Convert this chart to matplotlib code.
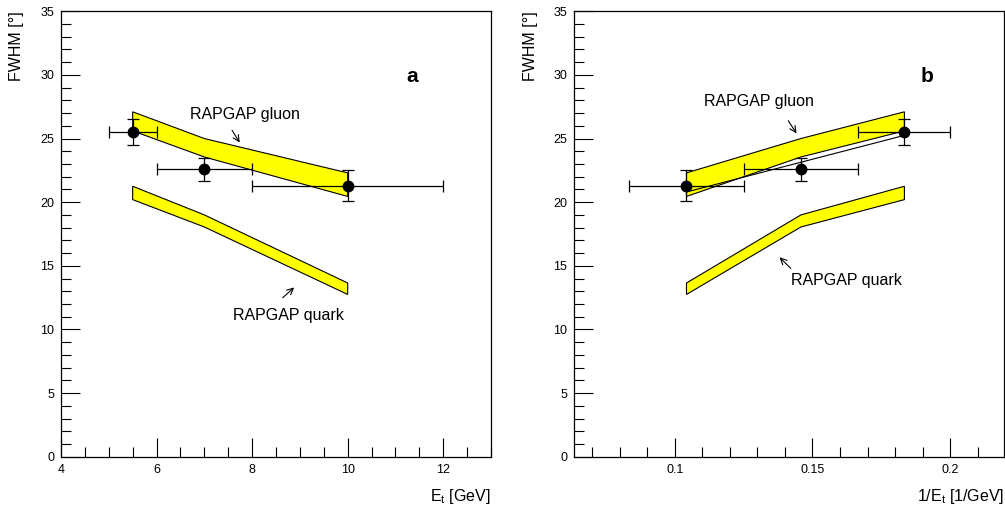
import numpy as np
import matplotlib
matplotlib.use('Agg')
import matplotlib.pyplot as plt
from matplotlib.ticker import MultipleLocator

plt.rcParams['font.family'] = ['Liberation Sans', 'DejaVu Sans']
plt.rcParams['mathtext.fontset'] = 'custom'
plt.rcParams['mathtext.rm'] = 'Liberation Sans'
plt.rcParams['mathtext.it'] = 'Liberation Sans'

# measured points (same three Et bins in both panels)
et_mean = [5.5, 7.0, 10.0]
et_lo = [5.0, 6.0, 8.0]
et_hi = [6.0, 8.0, 12.0]
inv_mean = [0.1834, 0.1458, 0.1042]
inv_lo = [0.1667, 0.125, 0.0833]
inv_hi = [0.2, 0.1667, 0.125]
fwhm = [25.5, 22.6, 21.3]
fwhm_err = [1.0, 0.9, 1.2]

# RAPGAP bands (upper / lower edges at the three bin centres)
gluon_hi = [27.1, 25.0, 22.3]
gluon_lo = [25.6, 23.55, 20.45]
quark_hi = [21.25, 19.0, 13.65]
quark_lo = [20.2, 18.05, 12.75]
# extra straight edge of the gluon band seen in panel b (ends only)
gluon_edge_b = [25.25, 20.8]

yellow = '#ffff00'
arrow = dict(arrowstyle='->,head_length=0.45,head_width=0.22', lw=0.8,
             color='black', shrinkA=0, shrinkB=0)


def band(ax, x, hi, lo):
    xs = list(x) + list(x)[::-1]
    ys = list(hi) + list(lo)[::-1]
    ax.fill(xs, ys, facecolor=yellow, edgecolor='black', lw=0.8, zorder=2)


def points(ax, x, lo, hi):
    x = np.array(x)
    xerr = [x - np.array(lo), np.array(hi) - x]
    ax.errorbar(x, fwhm, xerr=xerr, yerr=fwhm_err, fmt='o', color='black',
                ms=7.5, elinewidth=0.9, capsize=4.5, capthick=0.9, zorder=4)


def style(ax, ylab_x):
    ax.set_ylim(0, 35)
    ax.yaxis.set_major_locator(MultipleLocator(5))
    ax.yaxis.set_minor_locator(MultipleLocator(1))
    ax.tick_params(which='both', direction='in', top=False, right=False,
                   labelsize=9, width=0.8, pad=5)
    ax.tick_params(which='major', length=14)
    ax.tick_params(which='minor', length=7)
    for s in ax.spines.values():
        s.set_linewidth(0.9)
    ax.set_ylabel(u'FWHM [°]', fontsize=11.5, loc='top')
    ax.yaxis.set_label_coords(ylab_x, 1.0)


fig = plt.figure(figsize=(10.05, 5.12), dpi=100)
ax1 = fig.add_axes([0.0607, 0.108, 0.4279, 0.870])
ax2 = fig.add_axes([0.5711, 0.108, 0.4279, 0.870])

# panel a
band(ax1, et_mean, gluon_hi, gluon_lo)
band(ax1, et_mean, quark_hi, quark_lo)
points(ax1, et_mean, et_lo, et_hi)
ax1.set_xlim(4, 13)
ax1.set_xticks([4, 6, 8, 10, 12])
ax1.xaxis.set_minor_locator(MultipleLocator(0.5))
style(ax1, -0.086)
ax1.set_xlabel(r'E$_{\rm t}$ [GeV]', fontsize=11.5, loc='right')
ax1.xaxis.set_label_coords(1.0, -0.068)
ax1.text(6.7, 26.9, 'RAPGAP gluon', fontsize=11.5, va='center')
ax1.annotate('', xy=(7.74, 24.68), xytext=(7.58, 25.65), arrowprops=arrow)
ax1.text(7.6, 11.1, 'RAPGAP quark', fontsize=11.5, va='center')
ax1.annotate('', xy=(8.88, 13.3), xytext=(8.64, 12.49), arrowprops=arrow)
ax1.text(11.22, 29.85, 'a', fontsize=15, fontweight='bold', va='center')

# panel b
band(ax2, inv_mean, gluon_hi, gluon_lo)
ax2.plot([inv_mean[0], inv_mean[2]], gluon_edge_b, color='black', lw=0.8, zorder=3)
band(ax2, inv_mean, quark_hi, quark_lo)
points(ax2, inv_mean, inv_lo, inv_hi)
ax2.set_xlim(0.0633, 0.2196)
ax2.set_xticks([0.1, 0.15, 0.2])
ax2.set_xticklabels(['0.1', '0.15', '0.2'])
ax2.xaxis.set_minor_locator(MultipleLocator(0.01))
style(ax2, -0.083)
ax2.set_xlabel(r'1/E$_{\rm t}$ [1/GeV]', fontsize=11.5, loc='right')
ax2.xaxis.set_label_coords(1.0, -0.068)
ax2.text(0.1105, 27.94, 'RAPGAP gluon', fontsize=11.5, va='center')
ax2.annotate('', xy=(0.1442, 25.4), xytext=(0.1412, 26.4), arrowprops=arrow)
ax2.text(0.1421, 13.88, 'RAPGAP quark', fontsize=11.5, va='center')
ax2.annotate('', xy=(0.1380, 15.67), xytext=(0.1421, 14.8), arrowprops=arrow)
ax2.text(0.1893, 29.85, 'b', fontsize=15, fontweight='bold', va='center')

fig.savefig('out.png', dpi=100)
